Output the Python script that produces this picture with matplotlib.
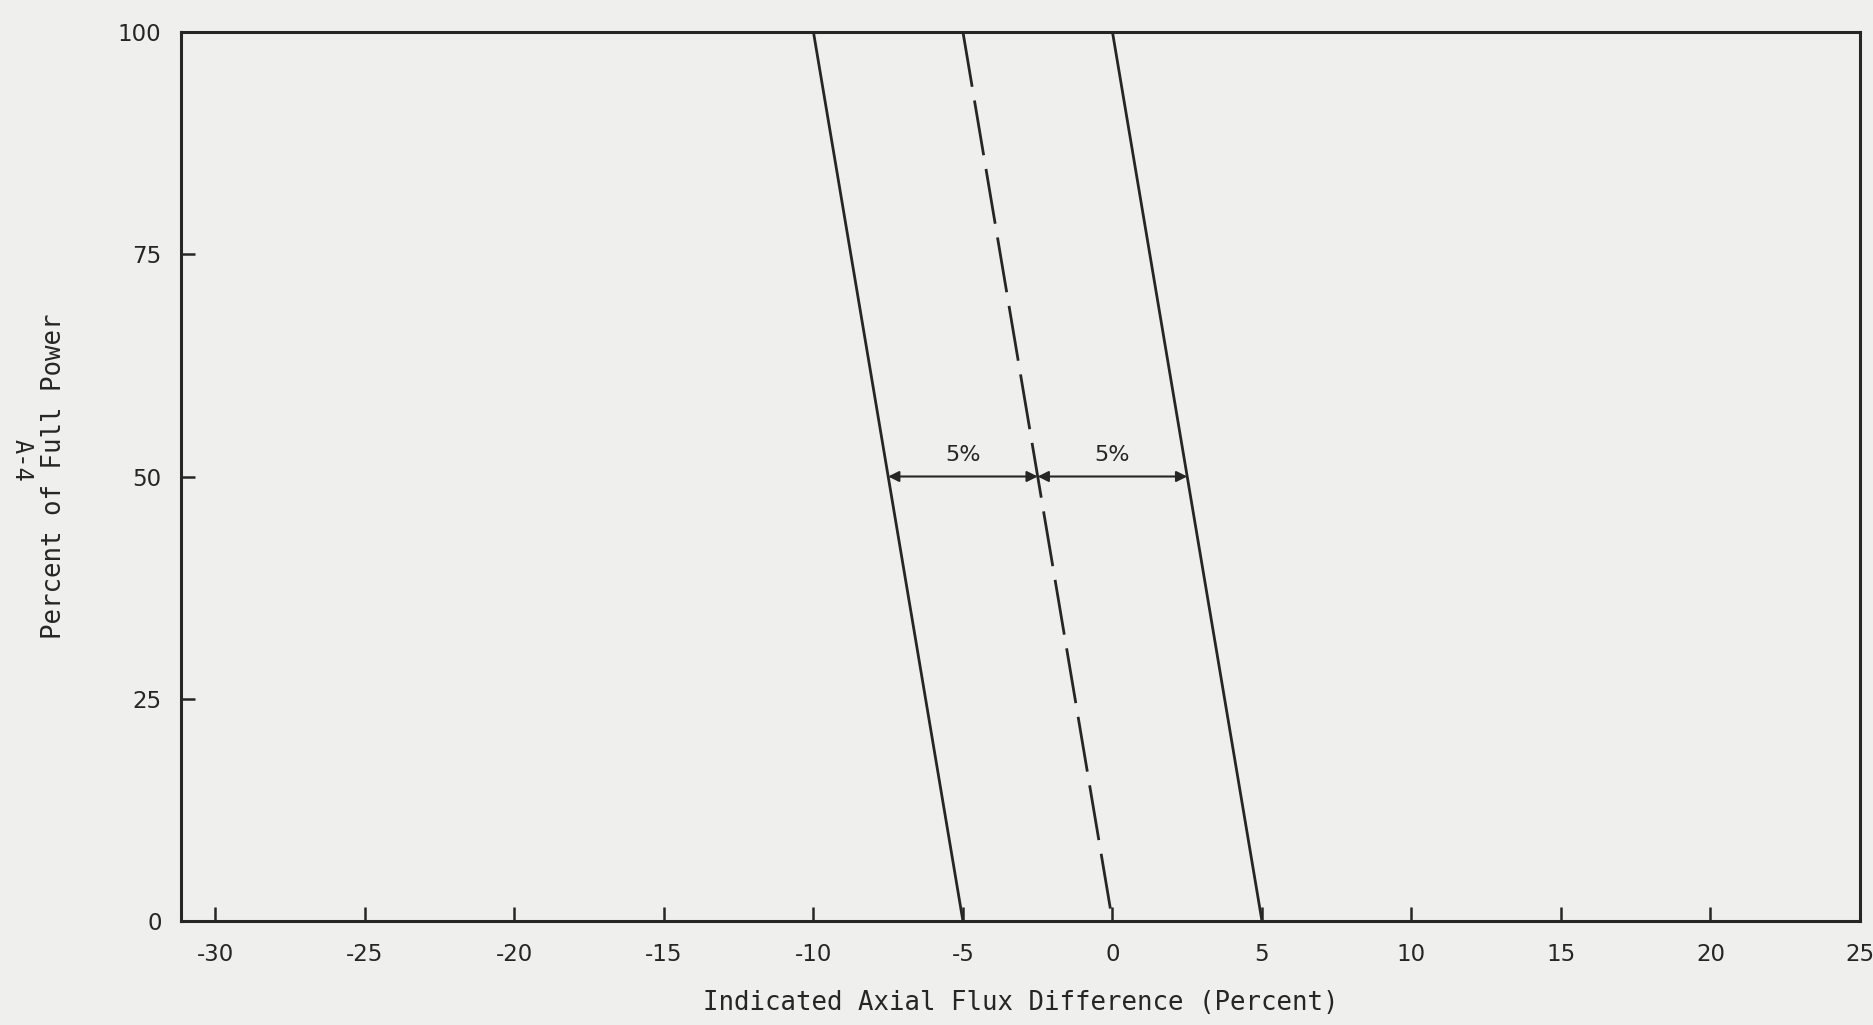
import matplotlib.pyplot as plt
from matplotlib import font_manager

# band limits (AFD at 100% power, AFD at 0% power)
power = [100, 0]
left_band = [-10, -5]
target = [-5, 0]
right_band = [0, 5]

arrow_y = 50
band_width_label = "5%"

x_ticks = [-30, -25, -20, -15, -10, -5, 0, 5, 10, 15, 20, 25]
y_ticks = [0, 25, 50, 75, 100]

ink = "#262626"
paper = "#efefed"

names = {f.name for f in font_manager.fontManager.ttflist}
narrow = "Liberation Sans Narrow" if "Liberation Sans Narrow" in names else "DejaVu Sans"
mono = "DejaVu Sans Mono"

fig = plt.figure(figsize=(18.73, 10.25), dpi=100, facecolor=paper)
ax = fig.add_axes([181 / 1873, 1 - 921 / 1025, (1860 - 181) / 1873, (921 - 32) / 1025])
ax.set_facecolor(paper)

ax.plot(left_band, power, color=ink, lw=2)
ax.plot(right_band, power, color=ink, lw=2)
ax.plot(target, power, color=ink, lw=2, dashes=(20, 5))

# 5% arrows at 50% power
def at_power(xs, p):
    return xs[0] + (xs[1] - xs[0]) * (power[0] - p) / (power[0] - power[1])

xl = at_power(left_band, arrow_y)
xm = at_power(target, arrow_y)
xr = at_power(right_band, arrow_y)
for a, b in [(xl, xm), (xm, xr)]:
    ax.annotate("", xy=(a, arrow_y), xytext=(b, arrow_y),
                arrowprops=dict(arrowstyle="<|-|>", color=ink, lw=1.5,
                                mutation_scale=16, shrinkA=0, shrinkB=0))
    ax.text((a + b) / 2, arrow_y + 2.4, band_width_label, ha="center", va="center",
            fontsize=16, color=ink, family=narrow)

ax.set_xlim(-31.15, 25)
ax.set_ylim(0, 100)
ax.set_xticks(x_ticks)
ax.set_yticks(y_ticks)
ax.set_xticklabels([str(t) for t in x_ticks], family=narrow, fontsize=16.5, color=ink)
ax.set_yticklabels([str(t) for t in y_ticks], family=narrow, fontsize=16.5, color=ink)
ax.tick_params(direction="in", length=10, width=1.8, color=ink)
ax.tick_params(axis="x", pad=16)
ax.tick_params(axis="y", pad=14)
for s in ax.spines.values():
    s.set_linewidth(2.2)
    s.set_color(ink)

ax.set_xlabel("Indicated Axial Flux Difference (Percent)", family=mono,
              fontsize=18.5, color=ink)
ax.xaxis.set_label_coords(0.5, -(1003 - 921) / 889, transform=ax.transAxes)
ax.set_ylabel("Percent of Full Power", family=mono, fontsize=18.5, color=ink)
ax.yaxis.set_label_coords(-(181 - 54) / 1679, 0.5, transform=ax.transAxes)
ax.xaxis.label.set_va("center")
ax.yaxis.label.set_va("center")

fig.text(22 / 1873, 1 - 460 / 1025, "A-4", rotation=270, ha="center", va="center",
         family=mono, fontsize=17, color=ink)

fig.savefig("out.png", dpi=100, facecolor=paper)
